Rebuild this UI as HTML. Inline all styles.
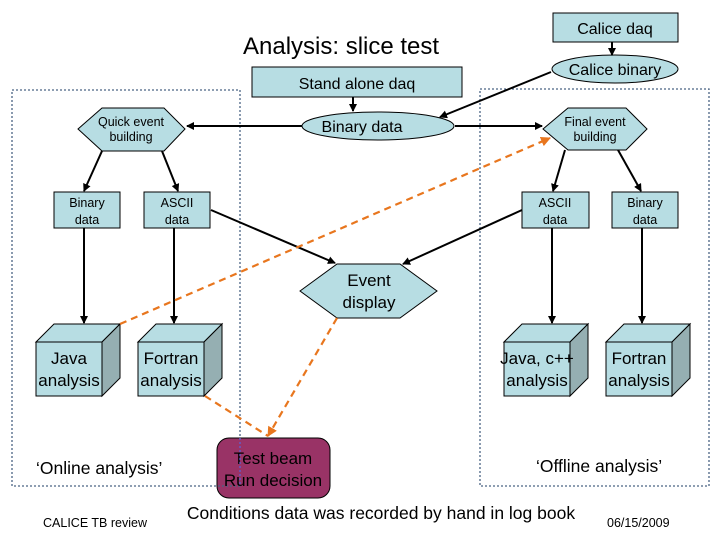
<!DOCTYPE html>
<html><head><meta charset="utf-8"><style>
html,body{margin:0;padding:0;background:#fff;}
svg{display:block;font-family:"Liberation Sans",Arial,sans-serif;}
</style></head><body>
<svg width="720" height="540" viewBox="0 0 720 540" xmlns="http://www.w3.org/2000/svg">
<defs>
<marker id="a" markerWidth="8" markerHeight="8" refX="7" refY="4" orient="auto" markerUnits="userSpaceOnUse"><path d="M0,0 L8,4 L0,8 z" fill="#000"/></marker>
<marker id="o" markerWidth="10" markerHeight="10" refX="9" refY="5" orient="auto" markerUnits="userSpaceOnUse"><path d="M0,0 L10,5 L0,10 z" fill="#e8761e"/></marker>
</defs>
<g fill="#b7dde3" stroke="#000" stroke-width="1">
<rect x="553" y="13" width="125" height="29"/>
<ellipse cx="615" cy="69" rx="63" ry="14"/>
<rect x="252" y="67" width="210" height="30"/>
<ellipse cx="378" cy="126" rx="76" ry="14"/>
<polygon points="78,129 102,108 164,108 185,129 164,151 102,151"/>
<polygon points="543,129 568,108 626,108 647,129 626,150 568,150"/>
<rect x="54" y="192" width="66" height="36"/>
<rect x="144" y="192" width="66" height="36"/>
<rect x="522" y="192" width="67" height="36"/>
<rect x="612" y="192" width="66" height="36"/>
<polygon points="300,291 337,264 400,264 437,291 400,318 337,318"/>
</g>
<g stroke="#000" stroke-width="1">
<g><polygon points="36,342 54,324 120,324 102,342" fill="#b7dde3"/><polygon points="102,342 120,324 120,378 102,396" fill="#95afb2"/><rect x="36" y="342" width="66" height="54" fill="#b7dde3"/></g>
<g><polygon points="138,342 156,324 222,324 204,342" fill="#b7dde3"/><polygon points="204,342 222,324 222,378 204,396" fill="#95afb2"/><rect x="138" y="342" width="66" height="54" fill="#b7dde3"/></g>
<g><polygon points="504,342 522,324 588,324 570,342" fill="#b7dde3"/><polygon points="570,342 588,324 588,378 570,396" fill="#95afb2"/><rect x="504" y="342" width="66" height="54" fill="#b7dde3"/></g>
<g><polygon points="606,342 624,324 690,324 672,342" fill="#b7dde3"/><polygon points="672,342 690,324 690,378 672,396" fill="#95afb2"/><rect x="606" y="342" width="66" height="54" fill="#b7dde3"/></g>
</g>
<rect x="217" y="438" width="113" height="60" rx="12" fill="#993366" stroke="#000"/>
<g fill="none" stroke="#4a6384" stroke-width="1.3" stroke-dasharray="2,2">
<rect x="12" y="90" width="228" height="396"/>
<rect x="480" y="89" width="229" height="397"/>
</g>
<g stroke="#000" stroke-width="2" fill="none" marker-end="url(#a)">
<line x1="612" y1="42" x2="612" y2="55"/>
<line x1="353" y1="97" x2="353" y2="111"/>
<line x1="551" y1="72" x2="440" y2="117"/>
<line x1="302" y1="126" x2="187" y2="126"/>
<line x1="455" y1="126" x2="542" y2="126"/>
<line x1="102" y1="151" x2="84" y2="191"/>
<line x1="162" y1="151" x2="178" y2="191"/>
<line x1="565" y1="150" x2="553" y2="191"/>
<line x1="618" y1="150" x2="641" y2="191"/>
<line x1="84" y1="228" x2="84" y2="323"/>
<line x1="174" y1="228" x2="174" y2="323"/>
<line x1="552" y1="228" x2="552" y2="323"/>
<line x1="642" y1="228" x2="642" y2="323"/>
<line x1="211" y1="210" x2="335" y2="263"/>
<line x1="522" y1="210" x2="403" y2="264"/>
</g>
<g stroke="#e8761e" stroke-width="2.2" fill="none" stroke-dasharray="7,5">
<line x1="120" y1="324" x2="550" y2="138" marker-end="url(#o)"/>
<line x1="205" y1="396" x2="268" y2="436"/>
<line x1="337" y1="318" x2="268" y2="436" marker-end="url(#o)"/>
</g>
<g font-size="16" text-anchor="middle" fill="#000">
<text x="615" y="34">Calice daq</text>
<text x="615" y="75">Calice binary</text>
<text x="357" y="89">Stand alone daq</text>
<text x="362" y="132">Binary data</text>
<text x="369" y="286" font-size="17">Event</text>
<text x="369" y="308" font-size="17">display</text>
</g>
<g font-size="12.5" text-anchor="middle">
<text x="131" y="126">Quick event</text><text x="131" y="141">building</text>
<text x="595" y="126">Final event</text><text x="595" y="141">building</text>
<text x="87" y="207">Binary</text><text x="87" y="224">data</text>
<text x="177" y="207">ASCII</text><text x="177" y="224">data</text>
<text x="555" y="207">ASCII</text><text x="555" y="224">data</text>
<text x="645" y="207">Binary</text><text x="645" y="224">data</text>
</g>
<g font-size="17" text-anchor="middle">
<text x="69" y="364">Java</text><text x="69" y="386">analysis</text>
<text x="171" y="364">Fortran</text><text x="171" y="386">analysis</text>
<text x="537" y="364">Java, c++</text><text x="537" y="386">analysis</text>
<text x="639" y="364">Fortran</text><text x="639" y="386">analysis</text>
<text x="273" y="464">Test beam</text><text x="273" y="486">Run decision</text>
</g>
<line x1="240" y1="438" x2="240" y2="486" stroke="#6a5acd" stroke-width="1.3" stroke-dasharray="2,2"/>
<text x="243" y="54" font-size="24">Analysis: slice test</text>
<text x="36" y="474" font-size="17.5">‘Online analysis’</text>
<text x="536" y="472" font-size="17.5">‘Offline analysis’</text>
<text x="381" y="519" font-size="17.5" text-anchor="middle">Conditions data was recorded by hand in log book</text>
<text x="43" y="527" font-size="12.5">CALICE TB review</text>
<text x="607" y="527" font-size="12.5">06/15/2009</text>
</svg>
</body></html>
